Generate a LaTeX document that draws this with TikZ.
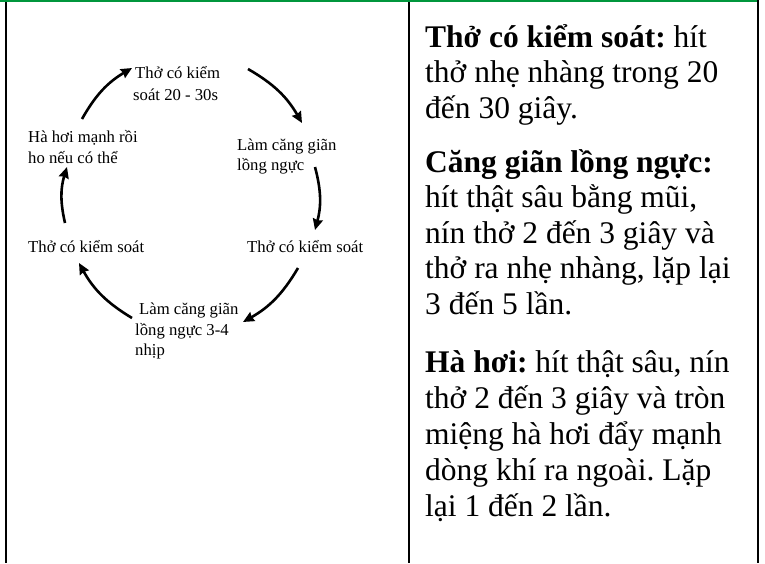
\documentclass[tikz,border=0pt]{standalone}
\usepackage{fontspec}
\setmainfont{Liberation Serif}
\usetikzlibrary{arrows.meta}
\definecolor{rulegreen}{RGB}{0,150,60}
\tikzset{
  lbl/.style={anchor=base west, inner sep=0pt, font=\fontsize{16.7}{20}\selectfont},
  body/.style={anchor=base west, inner sep=0pt, font=\fontsize{31.5}{35.5}\selectfont},
  cyc/.style={line width=2.6pt, -{Stealth[length=11pt,width=10pt,inset=1pt]}, bend left=15},
  tablerule/.style={line width=2pt}
}
\frenchspacing
\begin{document}
\frenchspacing
\begin{tikzpicture}[x=1pt,y=-1pt]
\useasboundingbox (0,0) rectangle (765,563);
\fill[white] (0,0) rectangle (765,563);
% table rules
\fill[rulegreen] (0,0) rectangle (757,2);
\draw[tablerule] (6.3,2) -- (6.3,563);
\draw[tablerule] (409,2) -- (409,563);
\draw[tablerule] (757.7,0) -- (757.7,563);
% cycle labels
\node[lbl] (t1a) at (135,78) {Thở có kiểm};
\node[lbl] (t1b) at (133,100) {soát 20 - 30s};
\node[lbl] (t2a) at (237,150) {Làm căng giãn};
\node[lbl] (t2b) at (237,170) {lồng ngực};
\node[lbl] (t3a) at (247,252) {Thở có kiểm soát};
\node[lbl] (t4a) at (139,314) {Làm căng giãn};
\node[lbl] (t4b) at (135,335) {lồng ngực 3-4};
\node[lbl] (t4c) at (135,355) {nhịp};
\node[lbl] (t5a) at (28,252) {Thở có kiểm soát};
\node[lbl] (t6a) at (28,142) {Hà hơi mạnh rồi};
\node[lbl] (t6b) at (28,163) {ho nếu có thể};
% arrow ends
\coordinate (a1s) at (82,119);  \coordinate (a1e) at (132,68);
\coordinate (a2s) at (248,69);  \coordinate (a2e) at (302,123);
\coordinate (a3s) at (315,167); \coordinate (a3e) at (315,230);
\coordinate (a4s) at (298,268); \coordinate (a4e) at (243,322);
\coordinate (a5s) at (132,318); \coordinate (a5e) at (79,263);
\coordinate (a6s) at (65,223);  \coordinate (a6e) at (67,167);
\draw[cyc] (a1s) to (a1e);
\draw[cyc] (a2s) to (a2e);
\draw[cyc] (a3s) to (a3e);
\draw[cyc] (a4s) to (a4e);
\draw[cyc] (a5s) to (a5e);
\draw[cyc] (a6s) to (a6e);
% right column
\node[body] (r1) at (425,47) {\textbf{Thở có kiểm soát:} hít};
\node[body] (r2) at (425,82.5) {thở nhẹ nhàng trong 20};
\node[body] (r3) at (425,118) {đến 30 giây.};
\node[body] (r4) at (425,172) {\textbf{Căng giãn lồng ngực:}};
\node[body] (r5) at (425,207.5) {hít thật sâu bằng mũi,};
\node[body] (r6) at (425,243) {nín thở 2 đến 3 giây và};
\node[body] (r7) at (425,278.5) {thở ra nhẹ nhàng, lặp lại};
\node[body] (r8) at (425,314) {3 đến 5 lần.};
\node[body] (r9) at (425,372.5) {\textbf{Hà hơi:} hít thật sâu, nín};
\node[body] (r10) at (425,408.5) {thở 2 đến 3 giây và tròn};
\node[body] (r11) at (425,444.5) {miệng hà hơi đẩy mạnh};
\node[body] (r12) at (425,480.5) {dòng khí ra ngoài. Lặp};
\node[body] (r13) at (425,516.5) {lại 1 đến 2 lần.};
\end{tikzpicture}
\end{document}
